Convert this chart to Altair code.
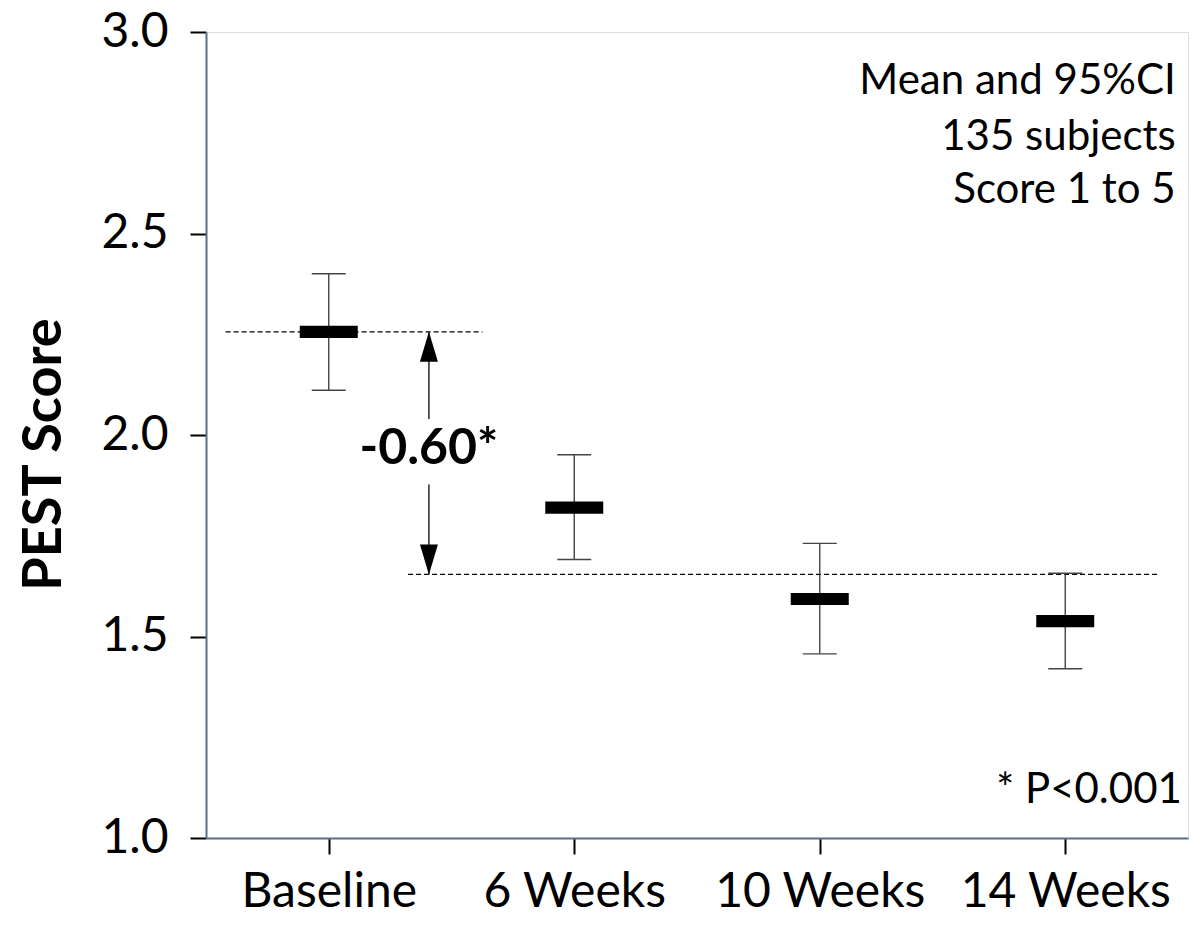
import json
import altair as alt
import pandas as pd

# ---- data ----
categories = ["Baseline", "6 Weeks", "10 Weeks", "14 Weeks"]
means = [2.256, 1.82, 1.593, 1.538]
ci_low = [2.111, 1.691, 1.457, 1.42]
ci_high = [2.40, 1.951, 1.731, 1.657]

# annotation values (data units)
baseline_ref = 2.256
week14_ref = 1.654
diff_label = "-0.60*"
notes = ["Mean and 95%CI", "135 subjects", "Score 1 to 5"]
note_y = [2.847, 2.706, 2.575]
pnote = "* P<0.001"

FONT = "Lato"
FRAME = "#56708c"

df = pd.DataFrame({
    "idx": list(range(len(categories))),
    "cat": categories,
    "mean": means,
    "lo": ci_low,
    "hi": ci_high,
})

xs = alt.Scale(domain=[-0.5, 3.5], nice=False, zero=False)
ys = alt.Scale(domain=[1.0, 3.0], nice=False, zero=False)

label_expr = json.dumps(categories) + "[datum.value]"

xaxis = alt.Axis(values=[0, 1, 2, 3], labelExpr=label_expr, title=None, grid=False,
                 labelFont=FONT, labelFontSize=48, labelColor="black", labelLimit=0,
                 labelBaseline="alphabetic", labelPadding=52,
                 tickSize=16, tickColor="black", tickWidth=2,
                 domainColor=FRAME, domainWidth=2, labelFlush=False, labelOverlap=False)
yaxis = alt.Axis(values=[1.0, 1.5, 2.0, 2.5, 3.0], format=".1f", title="PEST Score",
                 grid=False, labelFont=FONT, labelFontSize=48, labelColor="black",
                 labelPadding=22, tickSize=16, tickColor="black", tickWidth=2,
                 domainColor=FRAME, domainWidth=2, labelLimit=0,
                 titleFont=FONT, titleFontSize=54, titleFontWeight="bold", titleColor="black",
                 titleX=-146, titleY=422, titleBaseline="alphabetic", titleAlign="center",
                 titleLimit=0, labelFlush=False, labelOverlap=False)

base = alt.Chart(df)

whisk = base.mark_rule(color="#444444", strokeWidth=1.4).encode(
    x=alt.X("idx:Q", scale=xs, axis=xaxis),
    y=alt.Y("lo:Q", scale=ys, axis=yaxis),
    y2="hi:Q",
)
cap_lo = base.mark_point(shape="M-1,0L1,0", size=1156, filled=False,
                         color="#444444", strokeWidth=1.4, opacity=1).encode(
    x=alt.X("idx:Q", scale=xs), y=alt.Y("lo:Q", scale=ys))
cap_hi = base.mark_point(shape="M-1,0L1,0", size=1156, filled=False,
                         color="#444444", strokeWidth=1.4, opacity=1).encode(
    x=alt.X("idx:Q", scale=xs), y=alt.Y("hi:Q", scale=ys))
mean_box = base.mark_point(shape="M-1,-0.21L1,-0.21L1,0.21L-1,0.21Z", size=3364,
                           filled=True, color="black", opacity=1).encode(
    x=alt.X("idx:Q", scale=xs), y=alt.Y("mean:Q", scale=ys))

# dashed reference lines
ref_df = pd.DataFrame({
    "x1": [-0.42, 0.323],
    "x2": [0.626, 3.38],
    "y": [baseline_ref, week14_ref],
})
refs = alt.Chart(ref_df).mark_rule(color="black", strokeWidth=1.2, strokeDash=[5, 3]).encode(
    x=alt.X("x1:Q", scale=xs), x2="x2:Q", y=alt.Y("y:Q", scale=ys))

# arrow
arrow_x = 0.408
shaft_df = pd.DataFrame({
    "x": [arrow_x, arrow_x],
    "y1": [baseline_ref, 1.877],
    "y2": [2.04, week14_ref],
})
shafts = alt.Chart(shaft_df).mark_rule(color="#333333", strokeWidth=1.6).encode(
    x=alt.X("x:Q", scale=xs), y=alt.Y("y1:Q", scale=ys), y2="y2:Q")
head_up = alt.Chart(pd.DataFrame({"x": [arrow_x], "y": [baseline_ref]})).mark_point(
    shape="M0,0L0.3,1L-0.3,1Z", size=3600, filled=True, color="black", opacity=1).encode(
    x=alt.X("x:Q", scale=xs), y=alt.Y("y:Q", scale=ys))
head_dn = alt.Chart(pd.DataFrame({"x": [arrow_x], "y": [week14_ref]})).mark_point(
    shape="M0,0L0.3,-1L-0.3,-1Z", size=3600, filled=True, color="black", opacity=1).encode(
    x=alt.X("x:Q", scale=xs), y=alt.Y("y:Q", scale=ys))
diff_text = alt.Chart(pd.DataFrame({"x": [arrow_x], "y": [1.965], "t": [diff_label]})).mark_text(
    font=FONT, fontSize=50, fontWeight="bold", color="black", align="center", baseline="middle").encode(
    x=alt.X("x:Q", scale=xs), y=alt.Y("y:Q", scale=ys), text="t:N")

notes_df = pd.DataFrame({"x": [3.45] * len(notes), "y": note_y, "t": notes})
notes_text = alt.Chart(notes_df).mark_text(
    font=FONT, fontSize=42, color="black", align="right", baseline="alphabetic").encode(
    x=alt.X("x:Q", scale=xs), y=alt.Y("y:Q", scale=ys), text="t:N")
p_text = alt.Chart(pd.DataFrame({"x": [3.475], "y": [1.086], "t": [pnote]})).mark_text(
    font=FONT, fontSize=42, color="black", align="right", baseline="alphabetic").encode(
    x=alt.X("x:Q", scale=xs), y=alt.Y("y:Q", scale=ys), text="t:N")

chart = alt.layer(
    refs, whisk, cap_lo, cap_hi, mean_box, shafts, head_up, head_dn, diff_text, notes_text, p_text
).properties(
    width=982, height=806,
    autosize=alt.AutoSizeParams(type="none"),
    padding={"left": 198, "top": 24, "right": 4, "bottom": 78},
).configure_view(
    stroke=FRAME, strokeWidth=2
).configure(background="white")

chart.save("out.html", embed_options={"renderer": "svg", "actions": False})
